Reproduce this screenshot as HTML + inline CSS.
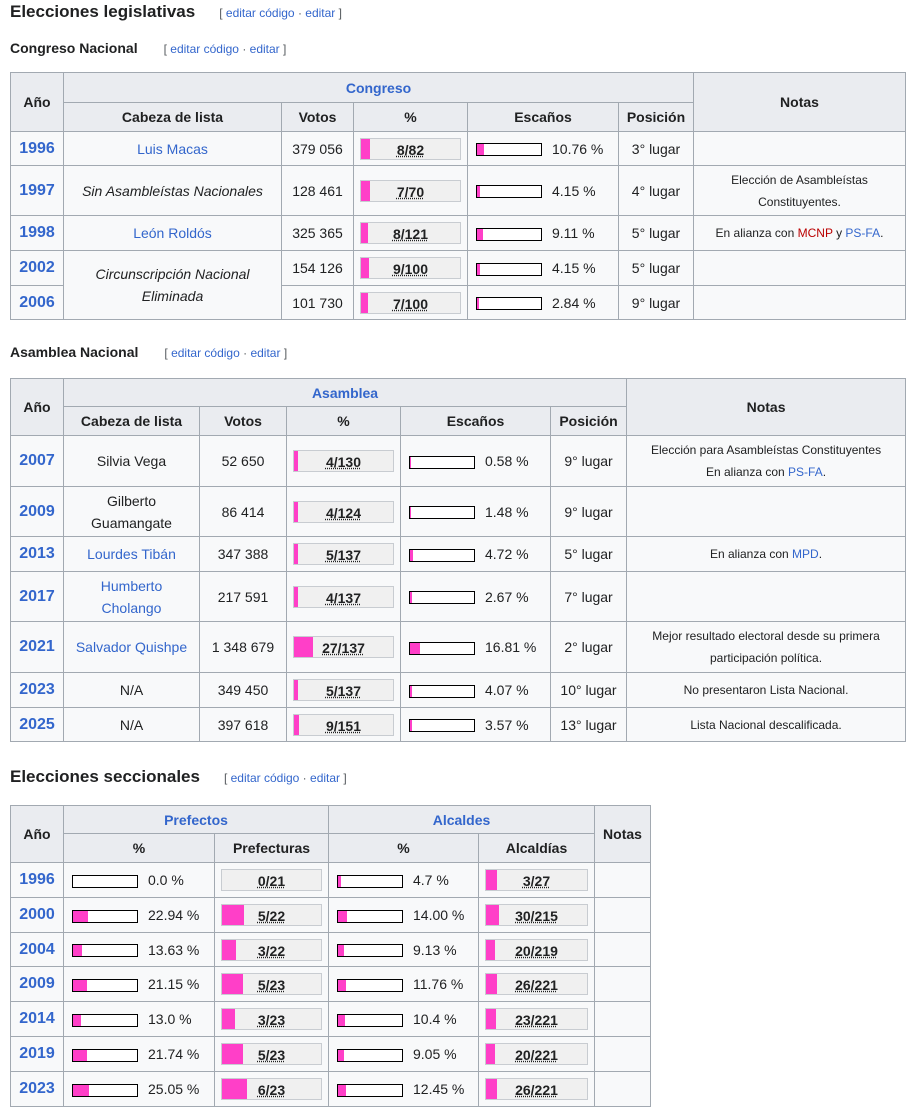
<!DOCTYPE html>
<html><head><meta charset="utf-8"><style>
body{margin:0;background:#fff;font-family:"Liberation Sans","Noto Sans CJK JP",sans-serif;color:#202122;width:914px;height:1116px;position:relative;overflow:hidden}
.h2{position:absolute;left:10px;font-size:17px;font-weight:bold}
.h3{position:absolute;left:10px;font-size:14px;font-weight:bold}
.ed{font-weight:normal;font-size:12px;color:#54595d;margin-left:24px}
.h3 .ed{margin-left:26px}
.ed a{color:#3366cc}
table{position:absolute;left:10px;border-collapse:collapse;table-layout:fixed;font-size:14px;background:#f8f9fa}
td,th{border:1px solid #a2a9b1;padding:0 3px;text-align:center;overflow:hidden;white-space:nowrap}
th{background:#eaecf0;font-weight:600}
a{color:#3366cc;text-decoration:none}
.y{color:#3366cc;font-weight:bold;font-size:16px}
.b{position:relative;height:20px;margin:0 3px;background:#f0f0f0;border:1px solid #c8ccd1;text-align:center;font-weight:bold;line-height:22px}
.b i{position:absolute;left:0;top:0;bottom:0;background:#ff3fc8}
.b span{position:relative;text-decoration:underline dotted}
.p{display:inline-block;vertical-align:middle;width:64px;height:11px;border:1px solid #000;background:#fff;position:relative;margin-right:10px}
.p i{position:absolute;left:0;top:0;bottom:0;background:#ff3fc8}
.sm{font-size:12px;white-space:normal;line-height:22px}
.l{text-align:left;padding-left:8px}
</style></head><body>
<div class="h2" style="top:2px">Elecciones legislativas<span class="ed">[ <a>editar código</a> · <a>editar</a> ]</span></div>
<div class="h3" style="top:40px">Congreso Nacional<span class="ed">[ <a>editar código</a> · <a>editar</a> ]</span></div>
<table style="top:72px;width:895px">
<colgroup><col style="width:53px"><col style="width:218px"><col style="width:72px"><col style="width:114px"><col style="width:151px"><col style="width:75px"><col style="width:212px"></colgroup>
<tr style="height:30px"><th rowspan="2">Año</th><th colspan="5"><a>Congreso</a></th><th rowspan="2">Notas</th></tr>
<tr style="height:29px"><th>Cabeza de lista</th><th>Votos</th><th>%</th><th>Escaños</th><th>Posición</th></tr>
<tr style="height:34px"><td class="y">1996</td><td><a>Luis Macas</a></td><td>379 056</td><td><div class="b"><i style="width:9px"></i><span>8/82</span></div></td><td class="l"><span class="p"><i style="width:7px"></i></span>10.76 %</td><td>3° lugar</td><td></td></tr>
<tr style="height:50px"><td class="y">1997</td><td><i>Sin Asambleístas Nacionales</i></td><td>128 461</td><td><div class="b"><i style="width:9px"></i><span>7/70</span></div></td><td class="l"><span class="p"><i style="width:3px"></i></span>4.15 %</td><td>4° lugar</td><td class="sm">Elección de Asambleístas Constituyentes.</td></tr>
<tr style="height:35px"><td class="y">1998</td><td><a>León Roldós</a></td><td>325 365</td><td><div class="b"><i style="width:7px"></i><span>8/121</span></div></td><td class="l"><span class="p"><i style="width:6px"></i></span>9.11 %</td><td>5° lugar</td><td class="sm">En alianza con <a style="color:#ba0000">MCNP</a> y <a>PS-FA</a>.</td></tr>
<tr style="height:35px"><td class="y">2002</td><td rowspan="2" style="white-space:normal;line-height:22px"><i>Circunscripción Nacional Eliminada</i></td><td>154 126</td><td><div class="b"><i style="width:8px"></i><span>9/100</span></div></td><td class="l"><span class="p"><i style="width:3px"></i></span>4.15 %</td><td>5° lugar</td><td></td></tr>
<tr style="height:34px"><td class="y">2006</td><td>101 730</td><td><div class="b"><i style="width:7px"></i><span>7/100</span></div></td><td class="l"><span class="p"><i style="width:2px"></i></span>2.84 %</td><td>9° lugar</td><td></td></tr>
</table>
<div class="h3" style="top:344px">Asamblea Nacional<span class="ed">[ <a>editar código</a> · <a>editar</a> ]</span></div>
<table style="top:378px;width:895px">
<colgroup><col style="width:53px"><col style="width:136px"><col style="width:87px"><col style="width:114px"><col style="width:150px"><col style="width:76px"><col style="width:279px"></colgroup>
<tr style="height:28px"><th rowspan="2">Año</th><th colspan="5"><a>Asamblea</a></th><th rowspan="2">Notas</th></tr>
<tr style="height:29px"><th>Cabeza de lista</th><th>Votos</th><th>%</th><th>Escaños</th><th>Posición</th></tr>
<tr style="height:51px"><td class="y">2007</td><td>Silvia Vega</td><td>52 650</td><td><div class="b"><i style="width:4px"></i><span>4/130</span></div></td><td class="l"><span class="p"><i style="width:1px"></i></span>0.58 %</td><td>9° lugar</td><td class="sm">Elección para Asambleístas Constituyentes<br>En alianza con <a>PS-FA</a>.</td></tr>
<tr style="height:50px"><td class="y">2009</td><td style="white-space:normal;line-height:22px">Gilberto Guamangate</td><td>86 414</td><td><div class="b"><i style="width:4px"></i><span>4/124</span></div></td><td class="l"><span class="p"><i style="width:1px"></i></span>1.48 %</td><td>9° lugar</td><td></td></tr>
<tr style="height:35px"><td class="y">2013</td><td><a>Lourdes Tibán</a></td><td>347 388</td><td><div class="b"><i style="width:4px"></i><span>5/137</span></div></td><td class="l"><span class="p"><i style="width:3px"></i></span>4.72 %</td><td>5° lugar</td><td class="sm">En alianza con <a>MPD</a>.</td></tr>
<tr style="height:50px"><td class="y">2017</td><td style="line-height:22px"><a>Humberto<br>Cholango</a></td><td>217 591</td><td><div class="b"><i style="width:4px"></i><span>4/137</span></div></td><td class="l"><span class="p"><i style="width:2px"></i></span>2.67 %</td><td>7° lugar</td><td></td></tr>
<tr style="height:51px"><td class="y">2021</td><td><a>Salvador Quishpe</a></td><td>1 348 679</td><td><div class="b"><i style="width:19px"></i><span>27/137</span></div></td><td class="l"><span class="p"><i style="width:10px"></i></span>16.81 %</td><td>2° lugar</td><td class="sm">Mejor resultado electoral desde su primera participación política.</td></tr>
<tr style="height:35px"><td class="y">2023</td><td>N/A</td><td>349 450</td><td><div class="b"><i style="width:4px"></i><span>5/137</span></div></td><td class="l"><span class="p"><i style="width:2px"></i></span>4.07 %</td><td>10° lugar</td><td class="sm">No presentaron Lista Nacional.</td></tr>
<tr style="height:34px"><td class="y">2025</td><td>N/A</td><td>397 618</td><td><div class="b"><i style="width:5px"></i><span>9/151</span></div></td><td class="l"><span class="p"><i style="width:2px"></i></span>3.57 %</td><td>13° lugar</td><td class="sm">Lista Nacional descalificada.</td></tr>
</table>
<div class="h2" style="top:767px">Elecciones seccionales<span class="ed">[ <a>editar código</a> · <a>editar</a> ]</span></div>
<table style="top:805px;width:640px">
<colgroup><col style="width:53px"><col style="width:151px"><col style="width:114px"><col style="width:150px"><col style="width:116px"><col style="width:56px"></colgroup>
<tr style="height:28px"><th rowspan="2">Año</th><th colspan="2"><a>Prefectos</a></th><th colspan="2"><a>Alcaldes</a></th><th rowspan="2">Notas</th></tr>
<tr style="height:29px"><th>%</th><th>Prefecturas</th><th>%</th><th>Alcaldías</th></tr>
<tr style="height:35px"><td class="y">1996</td><td class="l"><span class="p"></span>0.0 %</td><td><div class="b"><span>0/21</span></div></td><td class="l"><span class="p"><i style="width:3px"></i></span>4.7 %</td><td><div class="b"><i style="width:11px"></i><span>3/27</span></div></td><td></td></tr>
<tr style="height:35px"><td class="y">2000</td><td class="l"><span class="p"><i style="width:15px"></i></span>22.94 %</td><td><div class="b"><i style="width:22px"></i><span>5/22</span></div></td><td class="l"><span class="p"><i style="width:9px"></i></span>14.00 %</td><td><div class="b"><i style="width:13px"></i><span>30/215</span></div></td><td></td></tr>
<tr style="height:34px"><td class="y">2004</td><td class="l"><span class="p"><i style="width:9px"></i></span>13.63 %</td><td><div class="b"><i style="width:14px"></i><span>3/22</span></div></td><td class="l"><span class="p"><i style="width:6px"></i></span>9.13 %</td><td><div class="b"><i style="width:9px"></i><span>20/219</span></div></td><td></td></tr>
<tr style="height:35px"><td class="y">2009</td><td class="l"><span class="p"><i style="width:14px"></i></span>21.15 %</td><td><div class="b"><i style="width:21px"></i><span>5/23</span></div></td><td class="l"><span class="p"><i style="width:8px"></i></span>11.76 %</td><td><div class="b"><i style="width:11px"></i><span>26/221</span></div></td><td></td></tr>
<tr style="height:35px"><td class="y">2014</td><td class="l"><span class="p"><i style="width:8px"></i></span>13.0 %</td><td><div class="b"><i style="width:13px"></i><span>3/23</span></div></td><td class="l"><span class="p"><i style="width:7px"></i></span>10.4 %</td><td><div class="b"><i style="width:10px"></i><span>23/221</span></div></td><td></td></tr>
<tr style="height:35px"><td class="y">2019</td><td class="l"><span class="p"><i style="width:14px"></i></span>21.74 %</td><td><div class="b"><i style="width:21px"></i><span>5/23</span></div></td><td class="l"><span class="p"><i style="width:6px"></i></span>9.05 %</td><td><div class="b"><i style="width:9px"></i><span>20/221</span></div></td><td></td></tr>
<tr style="height:35px"><td class="y">2023</td><td class="l"><span class="p"><i style="width:16px"></i></span>25.05 %</td><td><div class="b"><i style="width:25px"></i><span>6/23</span></div></td><td class="l"><span class="p"><i style="width:8px"></i></span>12.45 %</td><td><div class="b"><i style="width:11px"></i><span>26/221</span></div></td><td></td></tr>
</table>
</body></html>
